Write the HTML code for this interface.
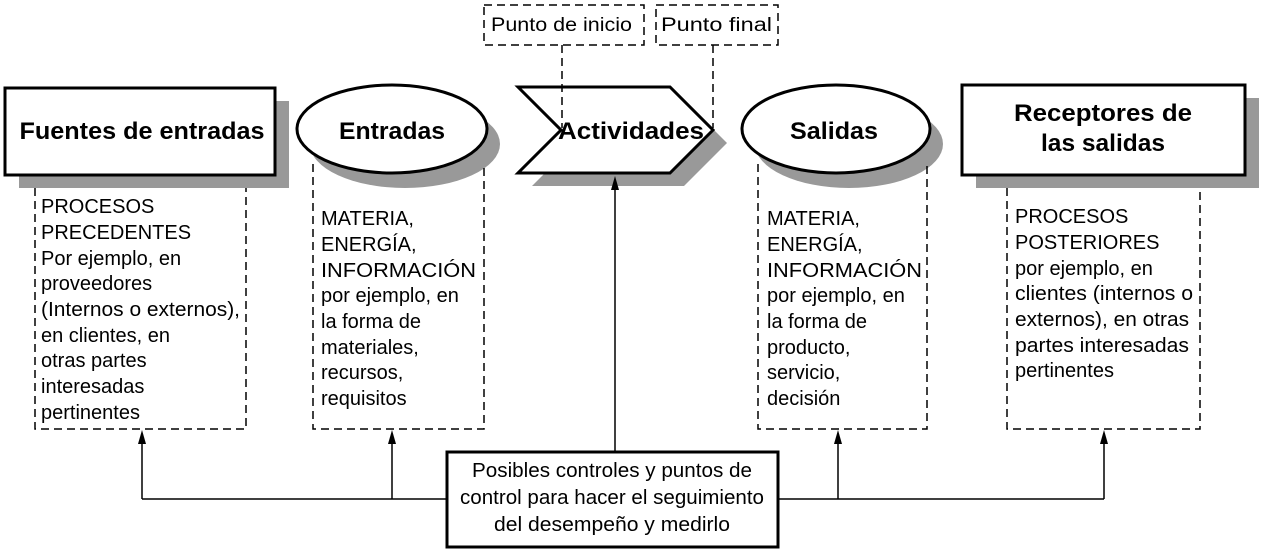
<!DOCTYPE html>
<html><head><meta charset="utf-8"><style>
html,body{margin:0;padding:0;background:#fff;}
svg{display:block;}
text{font-family:"Liberation Sans",Arial,sans-serif;fill:#000;}
</style></head><body>
<svg width="1264" height="557" viewBox="0 0 1264 557" xmlns="http://www.w3.org/2000/svg">
<g fill="#999">
<rect x="19" y="101" width="270" height="87"/>
<ellipse cx="405" cy="144" rx="95" ry="44"/>
<polygon points="532,100 684,100 727,143 684,186 532,186 575,143"/>
<ellipse cx="849" cy="144" rx="94" ry="44"/>
<rect x="976" y="98" width="283" height="90"/>
</g>
<g fill="#fff" stroke="#000" stroke-width="3">
<rect x="5" y="88" width="270" height="87"/>
<ellipse cx="392" cy="129" rx="95" ry="44"/>
<polygon points="518,87 670,87 713,130 670,173 518,173 561,130"/>
<ellipse cx="836" cy="129" rx="94" ry="44"/>
<rect x="962" y="85" width="283" height="90"/>
</g>
<g fill="none" stroke="#000" stroke-width="1.5" stroke-dasharray="8,5">
<polyline points="35,188 35,429 246,429 246,188"/>
<polyline points="313,164 313,429 484,429 484,164"/>
<polyline points="758,164 758,429 927,429 927,164"/>
<polyline points="1007,188 1007,429 1200,429 1200,188"/>
<rect x="484" y="5" width="160" height="40"/>
<rect x="656" y="5" width="122" height="40"/>
<line x1="562" y1="45" x2="562" y2="128"/>
<line x1="713" y1="45" x2="713" y2="128"/>
</g>
<g stroke="#000" stroke-width="1.5" fill="none">
<line x1="142" y1="499" x2="1104" y2="499"/>
<line x1="142" y1="499" x2="142" y2="440"/>
<line x1="392" y1="499" x2="392" y2="440"/>
<line x1="615" y1="452" x2="615" y2="186"/>
<line x1="838" y1="499" x2="838" y2="440"/>
<line x1="1104" y1="499" x2="1104" y2="440"/>
</g>
<g fill="#000">
<polygon points="142,430 138,444 146,444"/>
<polygon points="392,430 388,444 396,444"/>
<polygon points="615,176 611,190 619,190"/>
<polygon points="838,430 834,444 842,444"/>
<polygon points="1104,430 1100,444 1108,444"/>
</g>
<rect x="447" y="452" width="331" height="95" fill="#fff" stroke="#000" stroke-width="3"/>
<g font-size="20" text-anchor="middle">
<text x="612" y="477" textLength="280" lengthAdjust="spacingAndGlyphs">Posibles controles y puntos de</text>
<text x="612" y="504" textLength="304" lengthAdjust="spacingAndGlyphs">control para hacer el seguimiento</text>
<text x="612" y="531" textLength="236" lengthAdjust="spacingAndGlyphs">del desempeño y medirlo</text>
</g>
<g font-size="19">
<text x="491" y="31" textLength="141" lengthAdjust="spacingAndGlyphs">Punto de inicio</text>
<text x="661" y="31" textLength="111" lengthAdjust="spacingAndGlyphs">Punto final</text>
</g>
<g font-size="24" font-weight="bold" text-anchor="middle">
<text x="142" y="139" textLength="245" lengthAdjust="spacingAndGlyphs">Fuentes de entradas</text>
<text x="392" y="139" textLength="106" lengthAdjust="spacingAndGlyphs">Entradas</text>
<text x="631" y="139" textLength="146" lengthAdjust="spacingAndGlyphs">Actividades</text>
<text x="834" y="139" textLength="88" lengthAdjust="spacingAndGlyphs">Salidas</text>
<text x="1103" y="121" textLength="178" lengthAdjust="spacingAndGlyphs">Receptores de</text>
<text x="1103" y="151" textLength="124" lengthAdjust="spacingAndGlyphs">las salidas</text>
</g>
<g font-size="20">
<text x="41" y="213">PROCESOS</text><text x="41" y="239">PRECEDENTES</text><text x="41" y="265">Por ejemplo, en</text><text x="41" y="290">proveedores</text><text x="41" y="316" textLength="199" lengthAdjust="spacingAndGlyphs">(Internos o externos),</text><text x="41" y="342">en clientes, en</text><text x="41" y="367">otras partes</text><text x="41" y="393">interesadas</text><text x="41" y="419">pertinentes</text>
<text x="321" y="225">MATERIA,</text><text x="321" y="251">ENERGÍA,</text><text x="321" y="277" textLength="155" lengthAdjust="spacingAndGlyphs">INFORMACIÓN</text><text x="321" y="302">por ejemplo, en</text><text x="321" y="328">la forma de</text><text x="321" y="354">materiales,</text><text x="321" y="379">recursos,</text><text x="321" y="405">requisitos</text>
<text x="767" y="225">MATERIA,</text><text x="767" y="251">ENERGÍA,</text><text x="767" y="277" textLength="155" lengthAdjust="spacingAndGlyphs">INFORMACIÓN</text><text x="767" y="302">por ejemplo, en</text><text x="767" y="328">la forma de</text><text x="767" y="354">producto,</text><text x="767" y="379">servicio,</text><text x="767" y="405">decisión</text>
<text x="1015" y="223">PROCESOS</text><text x="1015" y="249">POSTERIORES</text><text x="1015" y="275">por ejemplo, en</text><text x="1015" y="300" textLength="178" lengthAdjust="spacingAndGlyphs">clientes (internos o</text><text x="1015" y="326" textLength="174" lengthAdjust="spacingAndGlyphs">externos), en otras</text><text x="1015" y="352" textLength="174" lengthAdjust="spacingAndGlyphs">partes interesadas</text><text x="1015" y="377">pertinentes</text>
</g>
</svg>
</body></html>
